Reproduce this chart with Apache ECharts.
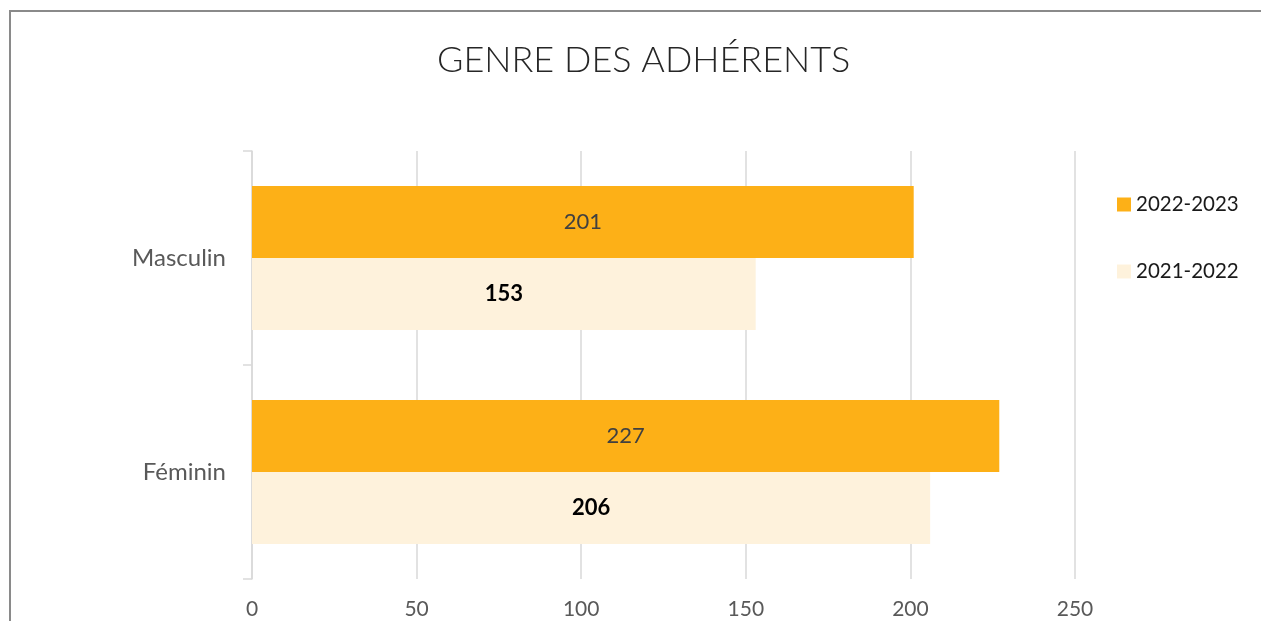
<!DOCTYPE html>
<html>
<head>
<meta charset="utf-8">
<script src="https://cdn.jsdelivr.net/npm/echarts@6/dist/echarts.min.js"></script>
<style>
  html, body { margin: 0; padding: 0; background: #fff; }
  #chart { width: 1261px; height: 621px; }
</style>
</head>
<body>
<div id="chart"></div>
<script>
var categories = ['Masculin', 'Féminin'];
var seriesNames = ['2022-2023', '2021-2022'];
var values2223 = [201, 227];
var values2122 = [153, 206];
var xTicks = [0, 50, 100, 150, 200, 250];

var chart = echarts.init(document.getElementById('chart'));

var option = {
  backgroundColor: '#ffffff',
  title: {
    text: 'GENRE DES ADHÉRENTS',
    left: 432,
    top: 37,
    textStyle: {
      fontFamily: 'Lato',
      fontWeight: 300,
      fontSize: 36,
      color: '#262626'
    }
  },
  graphic: [{
    type: 'rect',
    shape: { x: 10, y: 11, width: 1300, height: 700 },
    style: { fill: 'none', stroke: '#8a8a8a', lineWidth: 2 },
    silent: true
  }],
  legend: {
    orient: 'vertical',
    left: 1112,
    top: 189,
    itemWidth: 14,
    itemHeight: 14,
    itemGap: 46,
    icon: 'rect',
    data: seriesNames,
    textStyle: {
      fontFamily: 'Lato',
      fontSize: 20.5,
      color: '#1a1a1a'
    }
  },
  grid: {
    left: 252,
    right: 186,
    top: 151,
    bottom: 42
  },
  xAxis: {
    type: 'value',
    min: xTicks[0],
    max: xTicks[xTicks.length - 1],
    interval: 50,
    axisLine: { show: false },
    axisTick: { show: false },
    splitLine: { lineStyle: { color: '#d9d9d9', width: 1.5 } },
    axisLabel: {
      margin: 20,
      fontFamily: 'Lato',
      fontSize: 21,
      color: '#595959'
    }
  },
  yAxis: {
    type: 'category',
    inverse: true,
    data: categories,
    axisLine: { show: true, lineStyle: { color: '#d9d9d9', width: 1.5 } },
    axisTick: { show: true, length: 9, lineStyle: { color: '#d9d9d9', width: 1.5 } },
    axisLabel: {
      margin: 26,
      fontFamily: 'Lato',
      fontSize: 24,
      color: '#595959'
    }
  },
  series: [
    {
      name: seriesNames[0],
      type: 'bar',
      data: values2223,
      barWidth: 72,
      barGap: '0%',
      itemStyle: { color: '#fdb017' },
      label: {
        show: true,
        position: 'inside',
        fontFamily: 'Lato',
        fontSize: 22,
        color: '#404040'
      }
    },
    {
      name: seriesNames[1],
      type: 'bar',
      data: values2122,
      barWidth: 72,
      barGap: '0%',
      itemStyle: { color: '#fef2dc' },
      label: {
        show: true,
        position: 'inside',
        fontFamily: 'Lato',
        fontSize: 22,
        fontWeight: 'bold',
        color: '#000000'
      }
    }
  ]
};

chart.setOption(option);
</script>
</body>
</html>
